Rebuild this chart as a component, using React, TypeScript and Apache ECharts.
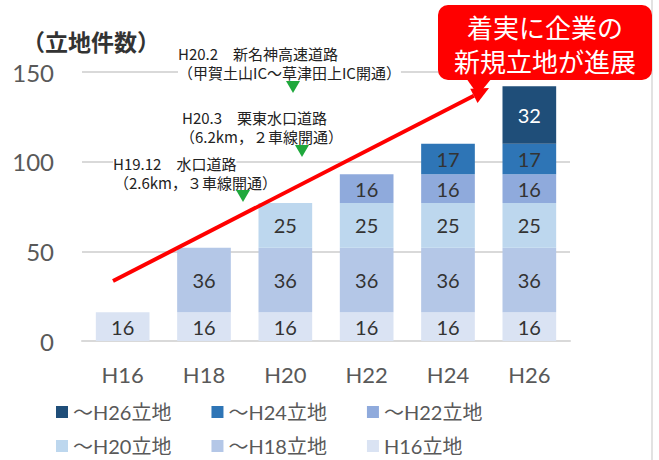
import React, { useEffect, useRef } from "react";
import * as echarts from "echarts";

const categories = ["H16", "H18", "H20", "H22", "H24", "H26"];
const seriesNames = ["H16立地", "～H18立地", "～H20立地", "～H22立地", "～H24立地", "～H26立地"];
const h16 = [16, 16, 16, 16, 16, 16];
const h18 = [null, 36, 36, 36, 36, 36];
const h20 = [null, null, 25, 25, 25, 25];
const h22 = [null, null, null, 16, 16, 16];
const h24 = [null, null, null, null, 17, 17];
const h26 = [null, null, null, null, null, 32];
const colors = ["#dae3f3", "#b4c7e7", "#bdd7ee", "#8faadc", "#2e75b6", "#1f4e79"];
const yTicks = { min: 0, max: 150, interval: 50 };

const CJK = "'Noto Sans CJK JP', sans-serif";
const LAT = "Lato, 'Noto Sans CJK JP', sans-serif";

function arrowHead(x1: number, y1: number, x2: number, y2: number, len: number, half: number) {
  const dx = x2 - x1, dy = y2 - y1;
  const L = Math.hypot(dx, dy);
  const ux = dx / L, uy = dy / L;
  const nx = -uy, ny = ux;
  const bx = x2 - ux * len, by = y2 - uy * len;
  return {
    base: [bx, by],
    pts: [[x2, y2], [bx + nx * half, by + ny * half], [bx - nx * half, by - ny * half]],
  };
}

export default function App() {
  const ref = useRef<HTMLDivElement>(null);
  useEffect(() => {
    const chart = echarts.init(ref.current!, null, { renderer: "svg" });
    const all = [h16, h18, h20, h22, h24, h26];
    const ah = arrowHead(113, 281, 489, 88, 17, 8);
    const annText = (x: number, y: number, text: string) => ({
      type: "text", x, y, z: 100,
      style: { text, fontSize: 15, fontFamily: CJK, fill: "#222", backgroundColor: "#fff", verticalAlign: "middle" },
    });
    const tri = (cx: number, cy: number) => ({
      type: "polygon", z: 100,
      shape: { points: [[cx - 7, cy - 6], [cx + 7, cy - 6], [cx, cy + 6]] },
      style: { fill: "#1fa83c" },
    });
    const legendText = { fontSize: 20, color: "#595959", fontFamily: LAT, width: 134 };
    chart.setOption({
      animation: false,
      backgroundColor: "#fff",
      color: colors,
      grid: { left: 82, right: 89, top: 72, bottom: 119 },
      legend: [
        {
          data: ["～H26立地", "～H24立地", "～H22立地"],
          left: 51, top: 397, itemWidth: 12, itemHeight: 12, itemGap: 40,
          icon: "rect", textStyle: legendText,
        },
        {
          data: ["～H20立地", "～H18立地", "H16立地"],
          left: 51, top: 431, itemWidth: 12, itemHeight: 12, itemGap: 40,
          icon: "rect", textStyle: legendText,
        },
      ],
      xAxis: {
        type: "category",
        data: categories,
        axisLine: { lineStyle: { color: "#d9d9d9", width: 2 } },
        axisTick: { show: false },
        axisLabel: { fontSize: 22, color: "#595959", fontFamily: LAT, margin: 22 },
      },
      yAxis: {
        type: "value",
        min: yTicks.min, max: yTicks.max, interval: yTicks.interval,
        axisLabel: { fontSize: 24, color: "#595959", fontFamily: LAT, margin: 28 },
        splitLine: { lineStyle: { color: "#d9d9d9", width: 2 } },
      },
      series: seriesNames.map((name, i) => ({
        name,
        type: "bar",
        stack: "total",
        barWidth: "66%",
        data: all[i],
        itemStyle: { color: colors[i] },
        label: {
          show: true,
          position: "inside",
          fontSize: 20,
          fontFamily: LAT,
          color: i === 5 ? "#ffffff" : "#333333",
        },
      })),
      graphic: [
        { type: "line", z: 90, shape: { x1: 652, y1: 0, x2: 652, y2: 460 }, style: { stroke: "#d9d9d9", lineWidth: 1.5 } },
        {
          type: "text", left: 22, top: 29, z: 100,
          style: { text: "（立地件数）", fontSize: 23, fontWeight: "bold", fontFamily: CJK, fill: "#333" },
        },
        annText(178, 53, "H20.2　新名神高速道路"),
        annText(178, 72, "（甲賀土山IC～草津田上IC開通）"),
        tri(293, 87),
        annText(182, 117, "H20.3　栗東水口道路"),
        annText(180, 136, "（6.2km，２車線開通）"),
        tri(302, 151),
        annText(113, 163, "H19.12　水口道路"),
        annText(114, 182, "（2.6km，３車線開通）"),
        tri(243, 196),
        {
          type: "line", z: 110,
          shape: { x1: 113, y1: 281, x2: ah.base[0], y2: ah.base[1] },
          style: { stroke: "#ff0000", lineWidth: 4 },
        },
        { type: "polygon", z: 110, shape: { points: ah.pts }, style: { fill: "#ff0000" } },
        {
          type: "rect", z: 105,
          shape: { x: 438, y: 5, width: 214, height: 75, r: 10 },
          style: { fill: "#ff0000" },
        },
        {
          type: "polygon", z: 105,
          shape: { points: [[466, 78], [492, 78], [478, 95]] },
          style: { fill: "#ff0000" },
        },
        {
          type: "text", x: 545, y: 43, z: 106,
          style: {
            text: "着実に企業の\n新規立地が進展",
            fontSize: 26, lineHeight: 34, fontFamily: CJK, fill: "#fff",
            align: "center", verticalAlign: "middle",
          },
        },
      ],
    });
    return () => chart.dispose();
  }, []);
  return (
    <div
      ref={ref}
      style={{ position: "fixed", left: 0, top: 0, width: 659, height: 460, background: "#fff" }}
    />
  );
}
